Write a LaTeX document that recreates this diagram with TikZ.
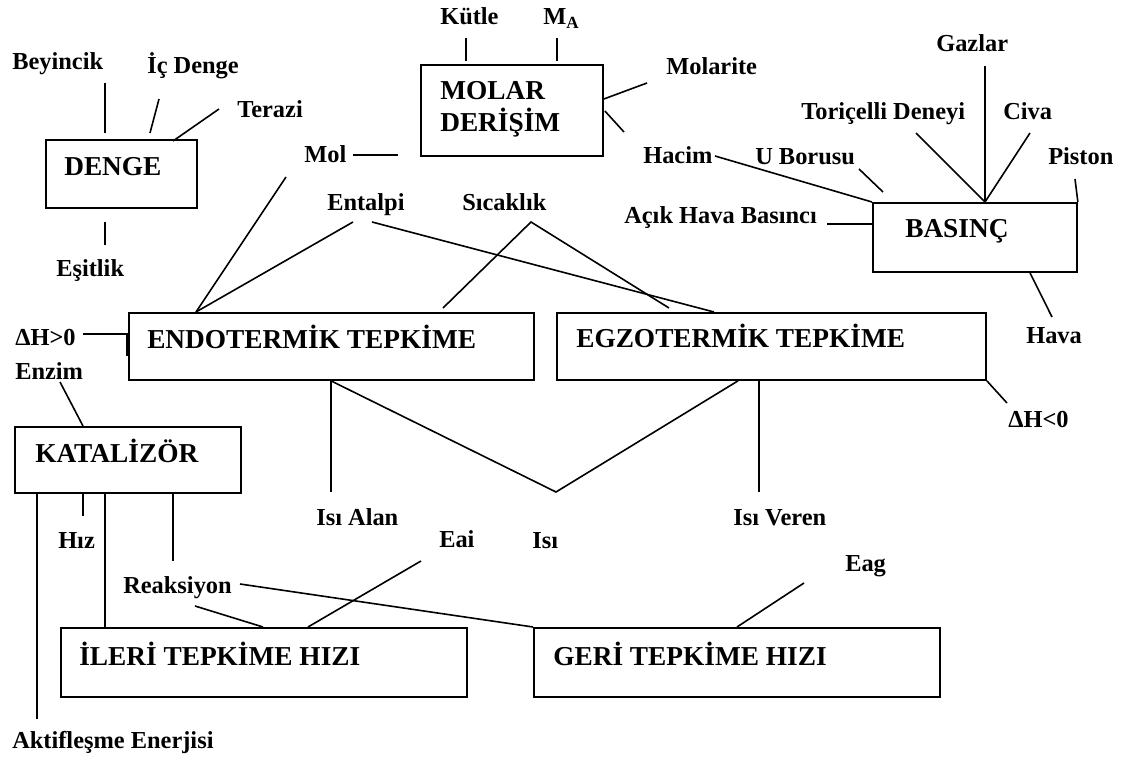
\documentclass[tikz,border=0pt]{standalone}
\usepackage{fontspec}
\setmainfont{Liberation Serif}
\usetikzlibrary{calc}
\begin{document}
\begin{tikzpicture}[x=0.75pt,y=-0.75pt,
  box/.style={draw, line width=1.4pt, inner sep=0pt, anchor=north west},
  title/.style={font=\fontsize{20.5}{24}\selectfont\bfseries, inner sep=0pt, anchor=base west},
  lbl/.style={font=\fontsize{18.3}{22}\selectfont\bfseries, inner sep=0pt, anchor=base west},
  link/.style={line width=1.2pt}]
\useasboundingbox (0,0) rectangle (1129,759);

% ---- boxes ----
\node[box, minimum width=113.25pt, minimum height=51pt]    (denge)  at (45,139)  {};
\node[box, minimum width=136.5pt,  minimum height=68.25pt] (molar)  at (420,64)  {};
\node[box, minimum width=153pt,    minimum height=51.75pt] (basinc) at (872,202) {};
\node[box, minimum width=303.75pt, minimum height=50.25pt] (endo)   at (128,312) {};
\node[box, minimum width=321.75pt, minimum height=50.25pt] (egzo)   at (556,312) {};
\node[box, minimum width=169.5pt,  minimum height=49.5pt]  (katal)  at (14,426)  {};
\node[box, minimum width=304.5pt,  minimum height=51.75pt] (ileri)  at (60,627)  {};
\node[box, minimum width=304.5pt,  minimum height=51.75pt] (geri)   at (533,627) {};

% ---- box titles ----
\node[title] (tdenge)  at (64,176)  {DENGE};
\node[title] (tmolar1) at (440,100) {MOLAR};
\node[title] (tmolar2) at (440,132) {DERİŞİM};
\node[title] (tbasinc) at (905,238) {BASINÇ};
\node[title] (tendo)   at (147,349) {ENDOTERMİK TEPKİME};
\node[title] (tegzo)   at (576,348) {EGZOTERMİK TEPKİME};
\node[title] (tkatal)  at (35,463)  {KATALİZÖR};
\node[title] (tileri)  at (79,665)  {İLERİ TEPKİME HIZI};
\node[title] (tgeri)   at (553,665) {GERİ TEPKİME HIZI};

% ---- labels ----
\node[lbl] (beyincik) at (12,70)    {Beyincik};
\node[lbl] (icdenge)  at (147,74)   {İç Denge};
\node[lbl] (terazi)   at (237,118)  {Terazi};
\node[lbl] (esitlik)  at (56,277)   {Eşitlik};
\node[lbl] (mol)      at (304,163)  {Mol};
\node[lbl] (entalpi)  at (327,211)  {Entalpi};
\node[lbl] (sicaklik) at (462,211)  {Sıcaklık};
\node[lbl] (kutle)    at (440,25)   {Kütle};
\node[lbl] (ma)       at (543,25)   {M\textsubscript{A}};
\node[lbl] (molarite) at (666,75)   {Molarite};
\node[lbl] (hacim)    at (643,164)  {Hacim};
\node[lbl] (uborusu)  at (755,165)  {U Borusu};
\node[lbl] (toricelli) at (801,120) {Toriçelli Deneyi};
\node[lbl] (civa)     at (1003,120) {Civa};
\node[lbl] (gazlar)   at (936,52)   {Gazlar};
\node[lbl] (piston)   at (1048,165) {Piston};
\node[lbl] (acik)     at (624,224)  {Açık Hava Basıncı};
\node[lbl] (hava)     at (1026,344) {Hava};
\node[lbl] (dhpos)    at (15,346)   {ΔH>0};
\node[lbl] (dhneg)    at (1008,427) {ΔH<0};
\node[lbl] (enzim)    at (15,380)   {Enzim};
\node[lbl] (isialan)  at (316,525)  {Isı Alan};
\node[lbl] (isiveren) at (733,525)  {Isı Veren};
\node[lbl] (isi)      at (532,548)  {Isı};
\node[lbl] (hiz)      at (58,548)   {Hız};
\node[lbl] (eai)      at (439,547)  {Eai};
\node[lbl] (reaksiyon) at (123,593) {Reaksiyon};
\node[lbl] (eag)      at (845,571)  {Eag};
\node[lbl] (aktif)    at (12,748)   {Aktifleşme Enerjisi};

% ---- free line ends near the labels ----
\coordinate (cBey1) at (105,83);   \coordinate (cBey2) at (105,133);
\coordinate (cIc1)  at (159,99);   \coordinate (cIc2)  at (150,133);
\coordinate (cTer)  at (219,109);
\coordinate (cEs1)  at (105,222);  \coordinate (cEs2)  at (105,245);
\coordinate (cMol1) at (353,155);  \coordinate (cMol2) at (398,155);
\coordinate (cMol3) at (286,177);
\coordinate (cEntL) at (353,222);  \coordinate (cEntR) at (372,222);
\coordinate (cSic)  at (531,222);
\coordinate (cSicL) at (443,308);  \coordinate (cSicR) at (669,308);
\coordinate (cKut1) at (466,38);   \coordinate (cKut2) at (466,61);
\coordinate (cMA1)  at (557,38);   \coordinate (cMA2)  at (557,61);
\coordinate (cMlr)  at (647,83);
\coordinate (cHac1) at (624,132);  \coordinate (cHac2) at (715,156);
\coordinate (cUb1)  at (859,169);  \coordinate (cUb2)  at (883,192);
\coordinate (cTor)  at (916,133);  \coordinate (cCiv)  at (1030,133);
\coordinate (cGaz)  at (985,66);   \coordinate (cPis)  at (1075,179);
\coordinate (cAcik) at (827,224);
\coordinate (cHava) at (1052,317);
\coordinate (cDHp)  at (83,334);
\coordinate (cDHn)  at (1007,403);
\coordinate (cEnz)  at (60,382);
\coordinate (cAlan) at (331,492);
\coordinate (cV)    at (556,492);
\coordinate (cVer)  at (759,492);
\coordinate (cAkt)  at (37,719);
\coordinate (cHiz)  at (83,516);
\coordinate (cRk1)  at (173,561);
\coordinate (cRk2)  at (195,606);
\coordinate (cRk3)  at (240,584);
\coordinate (cEai)  at (421,561);
\coordinate (cEag)  at (804,583);

% ---- DENGE ----
\draw[link] (cBey1) -- (cBey2);
\draw[link] (cIc1) -- (cIc2);
\draw[link] (cTer) -- ($(denge.north west)+(128,2)$);
\draw[link] (cEs1) -- (cEs2);

% ---- MOLAR DERİŞİM ----
\draw[link] (cMol1) -- (cMol2);
\draw[link] (cKut1) -- (cKut2);
\draw[link] (cMA1) -- (cMA2);
\draw[link] (cMlr) -- ($(molar.north east)+(0,35)$);
\draw[link] ($(molar.north east)+(1,47)$) -- (cHac1);

% ---- BASINÇ ----
\draw[link] (cHac2) -- (basinc.north west);
\draw[link] (cUb1) -- (cUb2);
\draw[link] (cTor) -- ($(basinc.north west)+(113,0)$);
\draw[link] (cCiv) -- ($(basinc.north west)+(113,0)$);
\draw[link] (cGaz) -- ($(basinc.north west)+(113,0)$);
\draw[link] (cPis) -- (basinc.north east);
\draw[link] (cAcik) -- ($(basinc.north west)+(0,22)$);
\draw[link] ($(basinc.south west)+(158,0)$) -- (cHava);

% ---- ENDOTERMİK / EGZOTERMİK ----
\draw[link] (cMol3) -- ($(endo.north west)+(68,0)$);
\draw[link] (cEntL) -- ($(endo.north west)+(68,0)$);
\draw[link] (cEntR) -- ($(egzo.north west)+(158,0)$);
\draw[link] (cSicL) -- (cSic) -- (cSicR);
\draw[link] (cDHp) -- ($(endo.north west)+(-1,22)$) -- ($(endo.north west)+(-1,44)$);
\draw[link] (egzo.south east) -- (cDHn);
\draw[link] ($(endo.south west)+(203,0)$) -- (cAlan);
\draw[link] ($(endo.south west)+(203,0)$) -- (cV) -- ($(egzo.south west)+(182,0)$);
\draw[link] ($(egzo.south west)+(203,0)$) -- (cVer);

% ---- KATALİZÖR ----
\draw[link] (cEnz) -- ($(katal.north west)+(69,0)$);
\draw[link] ($(katal.south west)+(23,0)$) -- (cAkt);
\draw[link] ($(katal.south west)+(69,0)$) -- (cHiz);
\draw[link] ($(katal.south west)+(91,0)$) -- ($(ileri.north west)+(45,0)$);
\draw[link] ($(katal.south west)+(159,0)$) -- (cRk1);

% ---- TEPKİME HIZI ----
\draw[link] (cRk2) -- ($(ileri.north west)+(203,0)$);
\draw[link] (cRk3) -- (geri.north west);
\draw[link] (cEai) -- ($(ileri.north west)+(248,0)$);
\draw[link] (cEag) -- ($(geri.north west)+(204,0)$);
\end{tikzpicture}
\end{document}
